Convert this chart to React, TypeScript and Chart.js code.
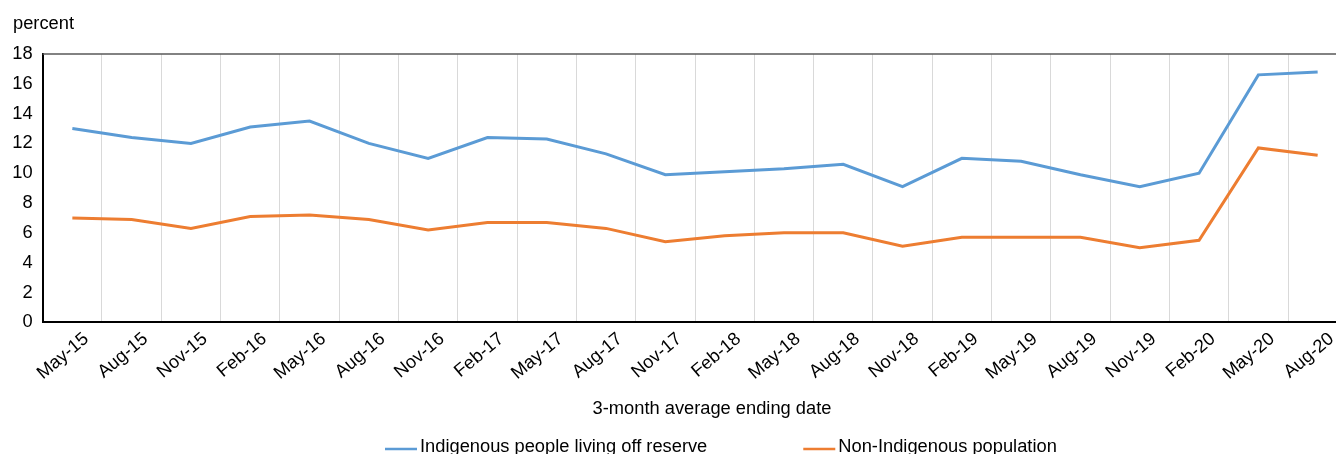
import React, { useEffect, useRef } from "react";
import { Chart, registerables } from "chart.js";

Chart.register(...registerables);

const categories = [
  "May-15", "Aug-15", "Nov-15", "Feb-16", "May-16", "Aug-16", "Nov-16", "Feb-17",
  "May-17", "Aug-17", "Nov-17", "Feb-18", "May-18", "Aug-18", "Nov-18", "Feb-19",
  "May-19", "Aug-19", "Nov-19", "Feb-20", "May-20", "Aug-20",
];

const indigenousOffReserve = [
  13.0, 12.4, 12.0, 13.1, 13.5, 12.0, 11.0, 12.4, 12.3, 11.3, 9.9,
  10.1, 10.3, 10.6, 9.1, 11.0, 10.8, 9.9, 9.1, 10.0, 16.6, 16.8,
];

const nonIndigenous = [
  7.0, 6.9, 6.3, 7.1, 7.2, 6.9, 6.2, 6.7, 6.7, 6.3, 5.4,
  5.8, 6.0, 6.0, 5.1, 5.7, 5.7, 5.7, 5.0, 5.5, 11.7, 11.2,
];

const seriesNames = ["Indigenous people living off reserve", "Non-Indigenous population"];
const seriesColors = ["#5B9BD5", "#ED7D31"];
const yTickValues = [0, 2, 4, 6, 8, 10, 12, 14, 16, 18];
const unitLabel = "percent";
const xTitle = "3-month average ending date";

const FONT = '"Liberation Sans", Arial, sans-serif';
const FS = 18.3;
const TEXT = "#000000";
const CANVAS_W = 1360;
const CANVAS_H = 454;

const overlayPlugin = {
  id: "overlay",
  afterDraw(chart: any) {
    const { ctx, chartArea } = chart;
    ctx.save();
    // plot area top border
    ctx.strokeStyle = "#595959";
    ctx.lineWidth = 1.5;
    ctx.beginPath();
    ctx.moveTo(chartArea.left, chartArea.top);
    ctx.lineTo(chartArea.right, chartArea.top);
    ctx.stroke();

    ctx.font = `${FS}px ${FONT}`;
    ctx.fillStyle = TEXT;

    // unit label
    ctx.textAlign = "left";
    ctx.textBaseline = "alphabetic";
    ctx.fillText(unitLabel, 13, 28.5);

    // x-axis title
    ctx.textAlign = "center";
    ctx.fillText(xTitle, 712, 413.5);

    // legend
    ctx.textAlign = "left";
    const lineW = 32;
    const lineY = 449;
    const textBase = 452;
    let x = 385;
    chart.data.datasets.forEach((ds: any) => {
      ctx.strokeStyle = ds.borderColor;
      ctx.lineWidth = 2.5;
      ctx.beginPath();
      ctx.moveTo(x, lineY);
      ctx.lineTo(x + lineW, lineY);
      ctx.stroke();
      ctx.fillStyle = TEXT;
      ctx.fillText(ds.label, x + lineW + 3, textBase);
      const tw = ctx.measureText(ds.label).width;
      x = x + lineW + 3 + tw + 96;
    });
    ctx.restore();
  },
};

export default function App() {
  const ref = useRef<HTMLCanvasElement>(null);
  useEffect(() => {
    if (!ref.current) return;
    const chart = new Chart(ref.current, {
      type: "line",
      data: {
        labels: categories,
        datasets: [
          {
            label: seriesNames[0],
            data: indigenousOffReserve,
            borderColor: seriesColors[0],
            backgroundColor: seriesColors[0],
            borderWidth: 3,
            pointRadius: 0,
            tension: 0,
          },
          {
            label: seriesNames[1],
            data: nonIndigenous,
            borderColor: seriesColors[1],
            backgroundColor: seriesColors[1],
            borderWidth: 3,
            pointRadius: 0,
            tension: 0,
          },
        ],
      },
      options: {
        responsive: false,
        animation: false,
        devicePixelRatio: 1,
        layout: { padding: { top: 54, left: 0, right: CANVAS_W - 1347.3, bottom: 0 } },
        plugins: {
          legend: { display: false },
          tooltip: { enabled: false },
          title: { display: false },
        },
        scales: {
          x: {
            type: "category",
            offset: true,
            grid: { display: true, offset: true, color: "#D9D9D9", lineWidth: 1, drawTicks: false },
            border: { display: true, color: "#000000", width: 2 },
            ticks: {
              autoSkip: false,
              minRotation: 40,
              maxRotation: 40,
              padding: 6,
              labelOffset: 14,
              color: TEXT,
              font: { family: FONT, size: FS },
            },
            title: { display: false, text: xTitle },
            afterFit(scale: any) {
              scale.height = CANVAS_H - 322.3;
            },
          },
          y: {
            min: 0,
            max: 18,
            afterBuildTicks(scale: any) {
              scale.ticks = yTickValues.map((v) => ({ value: v }));
            },
            grid: { display: false, drawTicks: false },
            border: { display: true, color: "#000000", width: 2 },
            ticks: {
              padding: 10,
              color: TEXT,
              font: { family: FONT, size: FS },
            },
            afterFit(scale: any) {
              scale.width = 42.7;
            },
          },
        },
      },
      plugins: [overlayPlugin],
    });
    return () => chart.destroy();
  }, []);

  return (
    <div
      style={{
        position: "absolute",
        left: 0,
        top: 0,
        width: 1336,
        height: 454,
        overflow: "hidden",
        background: "#ffffff",
      }}
    >
      <canvas ref={ref} width={CANVAS_W} height={CANVAS_H} style={{ width: CANVAS_W, height: CANVAS_H, display: "block" }} />
    </div>
  );
}
